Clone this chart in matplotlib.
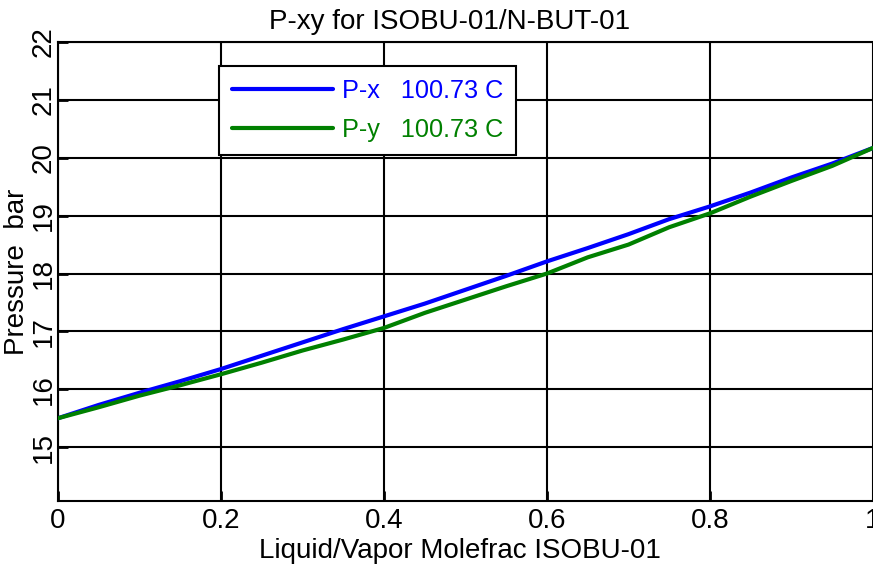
import matplotlib
matplotlib.use("Agg")
import matplotlib.pyplot as plt

plt.rcParams['font.family'] = ['Liberation Sans', 'DejaVu Sans']

# Data
molefrac = [0.00, 0.05, 0.10, 0.15, 0.20, 0.25, 0.30, 0.35, 0.40, 0.45, 0.50,
            0.55, 0.60, 0.65, 0.70, 0.75, 0.80, 0.85, 0.90, 0.95, 1.00]
p_x = [15.50, 15.73, 15.94, 16.14, 16.35, 16.58, 16.81, 17.04, 17.26, 17.48, 17.72,
       17.96, 18.21, 18.44, 18.68, 18.94, 19.16, 19.40, 19.66, 19.90, 20.17]
p_y = [15.50, 15.69, 15.89, 16.07, 16.26, 16.46, 16.67, 16.86, 17.06, 17.32, 17.55,
       17.78, 18.00, 18.28, 18.50, 18.80, 19.04, 19.33, 19.60, 19.86, 20.17]
x_ticks = [0, 0.2, 0.4, 0.6, 0.8, 1.0]
x_ticklabels = ["0", "0.2", "0.4", "0.6", "0.8", "1"]
y_ticks = [15, 16, 17, 18, 19, 20, 21, 22]
y_ticklabels = ["15", "16", "17", "18", "19", "20", "21", "22"]
labels = ["P-x   100.73 C", "P-y   100.73 C"]

W, H = 873, 568
fig = plt.figure(figsize=(W / 100, H / 100), dpi=100)
ax = fig.add_axes([58 / W, (H - 501) / H, 815 / W, 459 / H])

fs = 20
lfs = 18.2
ax.plot(molefrac, p_x, color="#0000FF", lw=3, label=labels[0], zorder=3,
        solid_capstyle="round")
ax.plot(molefrac, p_y, color="#008000", lw=3, label=labels[1], zorder=3,
        solid_capstyle="round")

ax.set_xlim(0, 1)
ax.set_ylim(14.07, 22)
ax.set_xticks(x_ticks)
ax.set_xticklabels(x_ticklabels)
ax.set_yticks(y_ticks)
ax.set_yticklabels(y_ticklabels, rotation=90, va="center")
ax.grid(True, color="black", lw=1.5, zorder=1)
ax.tick_params(direction="in", length=7, width=2, labelsize=fs, color="black")
ax.tick_params(axis="y", pad=1)
ax.tick_params(axis="x", pad=5)
for s in ax.spines.values():
    s.set_linewidth(1.5)
ax.spines["right"].set_visible(False)

leg = ax.legend(loc="upper left", bbox_to_anchor=(0.1975, 0.948),
                borderaxespad=0, fontsize=lfs, labelcolor="linecolor",
                handlelength=4.0, handletextpad=0.36, labelspacing=0.62,
                fancybox=False, framealpha=1, edgecolor="black",
                borderpad=0.5)
leg.get_frame().set_linewidth(1.5)
leg.set_zorder(5)

fig.text(450 / W, 1 - 22 / H, "P-xy for ISOBU-01/N-BUT-01", ha="center",
         va="center", fontsize=fs)
fig.text(460 / W, 1 - 551 / H, "Liquid/Vapor Molefrac ISOBU-01", ha="center",
         va="center", fontsize=fs)
fig.text(17 / W, 1 - 272 / H, "Pressure  bar", ha="center", va="center",
         rotation=90, fontsize=fs)

fig.savefig("out.png", dpi=100)
